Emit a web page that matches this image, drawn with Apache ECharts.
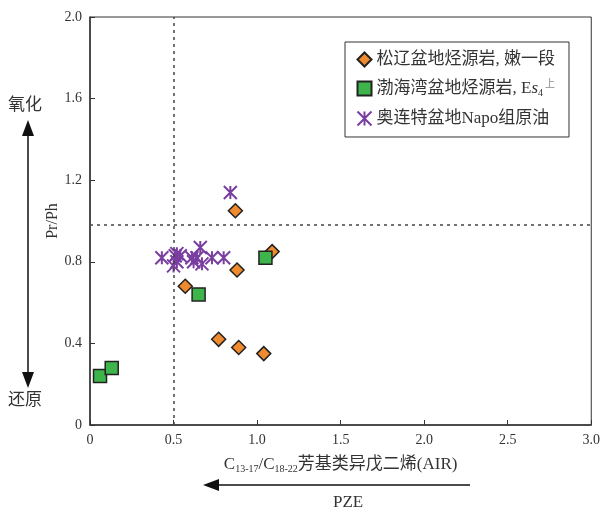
<!DOCTYPE html>
<html><head><meta charset="utf-8">
<script src="https://cdn.jsdelivr.net/npm/echarts@6/dist/echarts.min.js"></script>
<style>html,body{margin:0;padding:0;background:#fff}#c{width:603px;height:512px}</style>
</head><body><div id="c"></div>
<script>
var xTicks = [0, 0.5, 1.0, 1.5, 2.0, 2.5, 3.0];
var yTicks = [0, 0.4, 0.8, 1.2, 1.6, 2.0];
var seriesNames = ['松辽盆地烃源岩, 嫩一段', '渤海湾盆地烃源岩, Es4上', '奥连特盆地Napo组原油'];
var songliao = [[0.87,1.05],[1.09,0.85],[0.88,0.76],[0.57,0.68],[0.77,0.42],[0.89,0.38],[1.04,0.35]];
var bohai = [[1.05,0.82],[0.65,0.64],[0.06,0.24],[0.13,0.28]];
var oriente = [[0.84,1.14],[0.43,0.82],[0.51,0.83],[0.52,0.80],[0.50,0.78],[0.54,0.83],[0.52,0.84],[0.61,0.82],[0.66,0.87],[0.64,0.82],[0.67,0.79],[0.62,0.80],[0.73,0.82],[0.80,0.82]];
var refX = 0.5, refY = 0.98;

var FONT = '"Liberation Serif", "Noto Sans CJK SC", serif';
var chart = echarts.init(document.getElementById('c'));
var xSym = 'path://M0,0L10,10M10,0L0,10M5,0L5,10';
function fmt(v){ return v === 0 ? '0' : v.toFixed(1); }
chart.setOption({
  animation: false,
  textStyle: {fontFamily: FONT},
  grid: {left: 90, top: 17, right: 11, bottom: 87, show: true, borderColor: '#333', borderWidth: 1},
  xAxis: {
    type: 'value', min: xTicks[0], max: xTicks[xTicks.length-1], interval: 0.5,
    axisLine: {lineStyle: {color: '#333', width: 1.5}},
    axisTick: {inside: true, length: 5, lineStyle: {color: '#333'}},
    splitLine: {show: false},
    axisLabel: {formatter: fmt, color: '#333', fontSize: 14, fontFamily: FONT, margin: 8},
    name: 'C{sub|13-17}/C{sub|18-22}芳基类异戊二烯(AIR)',
    nameLocation: 'middle', nameGap: 31, nameMoveOverlap: false,
    nameTextStyle: {color: '#333', fontSize: 17, fontFamily: FONT,
      rich: {sub: {fontSize: 10, verticalAlign: 'bottom', padding: [8,0,0,0], fontFamily: FONT, color: '#333'}}}
  },
  yAxis: {
    type: 'value', min: yTicks[0], max: yTicks[yTicks.length-1], interval: 0.4,
    axisLine: {show: true, lineStyle: {color: '#333', width: 1.5}},
    axisTick: {show: true, inside: true, length: 5, lineStyle: {color: '#333'}},
    splitLine: {show: false},
    axisLabel: {formatter: fmt, color: '#333', fontSize: 14, fontFamily: FONT, margin: 8},
    name: 'Pr/Ph', nameLocation: 'middle', nameGap: 29, nameRotate: 90, nameMoveOverlap: false,
    nameTextStyle: {color: '#333', fontSize: 16, fontFamily: FONT}
  },
  legend: {
    left: 345, top: 42, width: 233, orient: 'vertical',
    backgroundColor: '#fff', borderColor: '#333', borderWidth: 1, padding: [9, 14, 9, 10],
    itemGap: 11, itemWidth: 14, itemHeight: 14,
    textStyle: {fontSize: 17, color: '#333', fontFamily: FONT,
      rich: {n: {fontSize: 17, color: '#333', fontFamily: FONT},
             it: {fontSize: 17, fontStyle: 'italic', color: '#333', fontFamily: FONT},
             sb: {fontSize: 10, color: '#333', verticalAlign: 'bottom', padding: [9,0,0,0], fontFamily: FONT},
             sp: {fontSize: 10, color: '#888', verticalAlign: 'top', padding: [0,0,9,2], fontFamily: FONT}}},
    formatter: function(name){
      if (name === seriesNames[1]) return '{n|渤海湾盆地烃源岩, E}{it|s}{sb|4}{sp|上}';
      return '{n|' + name + '}';
    },
    data: seriesNames
  },
  series: [
    {name: seriesNames[0], type: 'scatter', data: songliao, symbol: 'diamond', symbolSize: 14, z: 3,
     itemStyle: {color: '#F08A2E', borderColor: '#222', borderWidth: 1.5, opacity: 1},
     markLine: {silent: true, symbol: 'none', label: {show: false},
       lineStyle: {color: '#444', type: [3, 4], width: 1.5},
       data: [{xAxis: refX}, {yAxis: refY}]}},
    {name: seriesNames[1], type: 'scatter', data: bohai, symbol: 'rect', symbolSize: 13, z: 3,
     itemStyle: {color: '#3DB54A', borderColor: '#222', borderWidth: 1.5, opacity: 1}},
    {name: seriesNames[2], type: 'scatter', data: oriente, symbol: xSym, symbolSize: 13, z: 4,
     itemStyle: {color: 'none', borderColor: '#7A3EA0', borderWidth: 2, opacity: 1}}
  ],
  graphic: [
    {type: 'line', shape: {x1: 28, y1: 132, x2: 28, y2: 376}, style: {stroke: '#111', lineWidth: 1.5}},
    {type: 'polygon', shape: {points: [[28,120],[22,136],[34,136]]}, style: {fill: '#111'}},
    {type: 'polygon', shape: {points: [[28,388],[22,372],[34,372]]}, style: {fill: '#111'}},
    {type: 'text', left: 8, top: 95, style: {text: '氧化', font: '17px "Noto Sans CJK SC"', fill: '#333'}},
    {type: 'text', left: 8, top: 390, style: {text: '还原', font: '17px "Noto Sans CJK SC"', fill: '#333'}},
    {type: 'line', shape: {x1: 215, y1: 485, x2: 470, y2: 485}, style: {stroke: '#111', lineWidth: 1.5}},
    {type: 'polygon', shape: {points: [[203,485],[219,479],[219,491]]}, style: {fill: '#111'}},
    {type: 'text', left: 333, top: 494, style: {text: 'PZE', font: '17px "Liberation Serif"', fill: '#333'}}
  ]
});
</script></body></html>
